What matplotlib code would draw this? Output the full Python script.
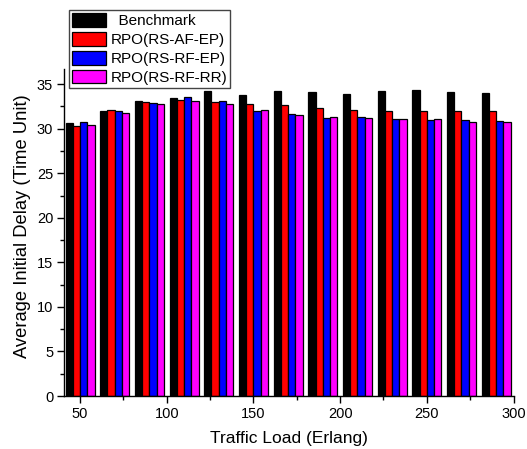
import matplotlib
matplotlib.use("Agg")
import matplotlib.pyplot as plt
import numpy as np
from matplotlib.ticker import MultipleLocator

plt.rcParams['font.family'] = ['Liberation Sans', 'DejaVu Sans']

loads = [50, 70, 90, 110, 130, 150, 170, 190, 210, 230, 250, 270, 290]
benchmark = [30.6, 32.0, 33.1, 33.4, 34.2, 33.8, 34.2, 34.1, 33.9, 34.2, 34.4, 34.1, 34.0]
rs_af_ep  = [30.35, 32.1, 33.0, 33.2, 33.0, 32.8, 32.7, 32.3, 32.1, 32.0, 32.0, 32.0, 32.0]
rs_rf_ep  = [30.7, 32.0, 32.9, 33.55, 33.15, 32.0, 31.65, 31.2, 31.3, 31.05, 30.95, 31.0, 30.9]
rs_rf_rr  = [30.4, 31.75, 32.8, 33.15, 32.8, 32.1, 31.55, 31.3, 31.2, 31.05, 31.05, 30.7, 30.8]

series = [
    ("  Benchmark", benchmark, "#000000"),
    ("RPO(RS-AF-EP)", rs_af_ep, "#ff0000"),
    ("RPO(RS-RF-EP)", rs_rf_ep, "#0000ff"),
    ("RPO(RS-RF-RR)", rs_rf_rr, "#ff00ff"),
]

fig = plt.figure(figsize=(5.27, 4.49), dpi=100)
ax = fig.add_axes([0.122, 0.118, 0.9744 - 0.122, 0.8463 - 0.118])

x = np.array(loads, dtype=float)
w = 4.2
offsets = [-1.5, -0.5, 0.5, 1.5]
handles = []
for (lab, vals, col), off in zip(series, offsets):
    b = ax.bar(x + off * w, vals, width=w, color=col, edgecolor='black',
               linewidth=0.9, label=lab)
    handles.append(b)

ax.set_xlim(40.9, 300)
ax.set_ylim(0, 36.7)
ax.xaxis.set_major_locator(MultipleLocator(50))
ax.xaxis.set_minor_locator(MultipleLocator(25))
ax.yaxis.set_major_locator(MultipleLocator(5))
ax.yaxis.set_minor_locator(MultipleLocator(2.5))
ax.tick_params(axis='both', which='major', direction='out', length=5, width=1,
               labelsize=10.5, pad=3)
ax.tick_params(axis='both', which='minor', direction='out', length=3, width=1)
for s in ['top', 'right']:
    ax.spines[s].set_visible(False)
for s in ['left', 'bottom']:
    ax.spines[s].set_linewidth(1)

ax.set_xlabel("Traffic Load (Erlang)", fontsize=12.5, labelpad=7)
ax.set_ylabel("Average Initial Delay (Time Unit)", fontsize=13.2)
ax.yaxis.set_label_coords(-0.075, 0.52)

leg = fig.legend(handles=handles, loc='upper left',
                 bbox_to_anchor=(69 / 527, 1 - 10 / 449),
                 fontsize=11, frameon=True, fancybox=False, framealpha=1,
                 edgecolor='#444444', handlelength=2.2, handleheight=1.0,
                 handletextpad=0.3, labelspacing=0.25, borderpad=0.2,
                 borderaxespad=0)
leg.get_frame().set_linewidth(1)

fig.savefig("out.png", dpi=100)
